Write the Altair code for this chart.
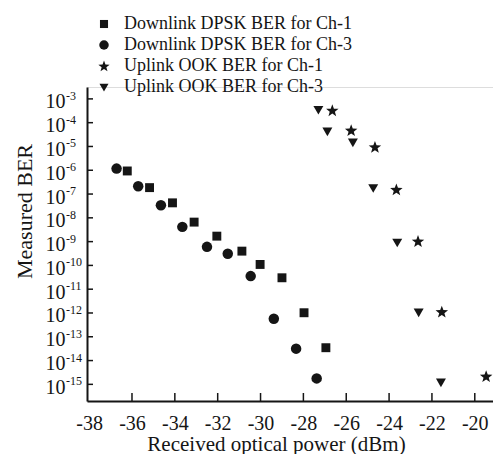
import math
import altair as alt
import pandas as pd

# Data
dl_ch1_x = [-36.22, -35.18, -34.11, -33.10, -32.04, -30.87, -30.02, -29.00, -27.97, -26.95]
dl_ch1_log = [-6.03, -6.73, -7.37, -8.18, -8.77, -9.40, -9.96, -10.52, -11.99, -13.46]
dl_ch3_x = [-36.72, -35.71, -34.65, -33.65, -32.50, -31.53, -30.46, -29.38, -28.34, -27.38]
dl_ch3_log = [-5.93, -6.67, -7.47, -8.38, -9.22, -9.51, -10.45, -12.24, -13.50, -14.75]
ul_ch1_x = [-26.65, -25.77, -24.66, -23.66, -22.65, -21.54, -19.47]
ul_ch1_log = [-3.48, -4.32, -5.02, -6.81, -8.98, -11.95, -14.66]
ul_ch3_x = [-27.30, -26.88, -25.69, -24.74, -23.62, -22.62, -21.58]
ul_ch3_log = [-3.45, -4.36, -4.82, -6.74, -9.03, -11.97, -14.91]

series_names = [
    "Downlink DPSK BER for Ch-1",
    "Downlink DPSK BER for Ch-3",
    "Uplink OOK BER for Ch-1",
    "Uplink OOK BER for Ch-3",
]
x_ticks = [-38, -36, -34, -32, -30, -28, -26, -24, -22, -20]
y_exps = list(range(-3, -16, -1))

rows = []
for name, xs, ls in zip(series_names,
                        [dl_ch1_x, dl_ch3_x, ul_ch1_x, ul_ch3_x],
                        [dl_ch1_log, dl_ch3_log, ul_ch1_log, ul_ch3_log]):
    for xv, lv in zip(xs, ls):
        rows.append({"series": name, "x": xv, "ber": 10 ** lv})
df = pd.DataFrame(rows)

xt = pd.DataFrame({"x": [t for t in x_ticks if t != -38]})
yt = pd.DataFrame({"ber": [10.0 ** e for e in y_exps],
                   "exp": [str(e) for e in y_exps]})

W, H = 406, 314
FONT = "Liberation Serif"
INK = "#151515"

# marker paths (unit box, scaled by sqrt(size)/2)
pts = []
for i in range(10):
    r = 1.25 if i % 2 == 0 else 0.52
    a = -math.pi / 2 + i * math.pi / 5
    pts.append("%.3f,%.3f" % (r * math.cos(a), r * math.sin(a) + 0.1))
star_path = "M" + "L".join(pts) + "Z"
square_path = "M-0.85,-0.85L0.85,-0.85L0.85,0.85L-0.85,0.85Z"
tri_path = "M-0.95,-0.7L0.95,-0.7L0,0.95Z"

xscale = alt.Scale(domain=[-38.1, -19.15], nice=False, zero=False)
yscale = alt.Scale(type="log", domain=[10 ** -15.7, 10 ** -2.5], nice=False)

xaxis = alt.Axis(values=x_ticks, tickSize=0, labelPadding=12, grid=False,
                 labelExpr="'' + datum.value", labelFontSize=20, labelFont=FONT,
                 labelColor=INK, domainColor=INK, domainWidth=2,
                 title="Received optical power (dBm)", titleFont=FONT,
                 titleFontSize=21, titleFontWeight="normal", titleColor=INK,
                 titleX=189, titleY=49, titleBaseline="alphabetic")
yaxis = alt.Axis(values=[10.0 ** e for e in y_exps], tickSize=0, labelPadding=22,
                 grid=False, labelExpr="'10'", labelFontSize=20, labelOffset=3,
                 labelFont=FONT, labelColor=INK, domainColor=INK, domainWidth=2,
                 title="Measured BER", titleFont=FONT, titleFontSize=22,
                 titleFontWeight="normal", titleColor=INK,
                 titleX=-56, titleY=124, titleBaseline="alphabetic")

points = alt.Chart(df).mark_point(filled=True, opacity=1, color=INK, strokeWidth=0,
                                  size=110).encode(
    x=alt.X("x:Q", scale=xscale, axis=xaxis),
    y=alt.Y("ber:Q", scale=yscale, axis=yaxis),
    shape=alt.Shape("series:N",
                    scale=alt.Scale(domain=series_names,
                                    range=[square_path, "circle", star_path, tri_path]),
                    legend=alt.Legend(title=None, orient="none", legendX=8, legendY=-72,
                                      labelFont=FONT, labelFontSize=18, labelColor=INK,
                                      labelLimit=400, labelOffset=11, rowPadding=3,
                                      symbolFillColor=INK, symbolStrokeWidth=0,
                                      symbolSize=90, symbolOpacity=1)),
)

xtick_rules = alt.Chart(xt).mark_rule(color=INK, strokeWidth=1.5).encode(
    x=alt.X("x:Q", scale=xscale, axis=xaxis),
    y=alt.value(H),
    y2=alt.value(H - 8),
)
ytick_rules = alt.Chart(yt).mark_rule(color=INK, strokeWidth=1.5).encode(
    y=alt.Y("ber:Q", scale=yscale, axis=yaxis),
    x=alt.value(0),
    x2=alt.value(6),
)
exponents = alt.Chart(yt).mark_text(font=FONT, fontSize=12, color=INK, align="left",
                                    baseline="middle", dy=-3).encode(
    y=alt.Y("ber:Q", scale=yscale, axis=yaxis),
    x=alt.value(-21),
    text="exp:N",
)

chart = alt.layer(xtick_rules, ytick_rules, exponents, points).properties(
    width=W, height=H, autosize="none",
    padding={"left": 79, "top": 79, "right": 0, "bottom": 53},
).configure_view(stroke=None, clip=False).configure(background="white")

chart.save("out.html", embed_options={"renderer": "svg", "actions": False})
